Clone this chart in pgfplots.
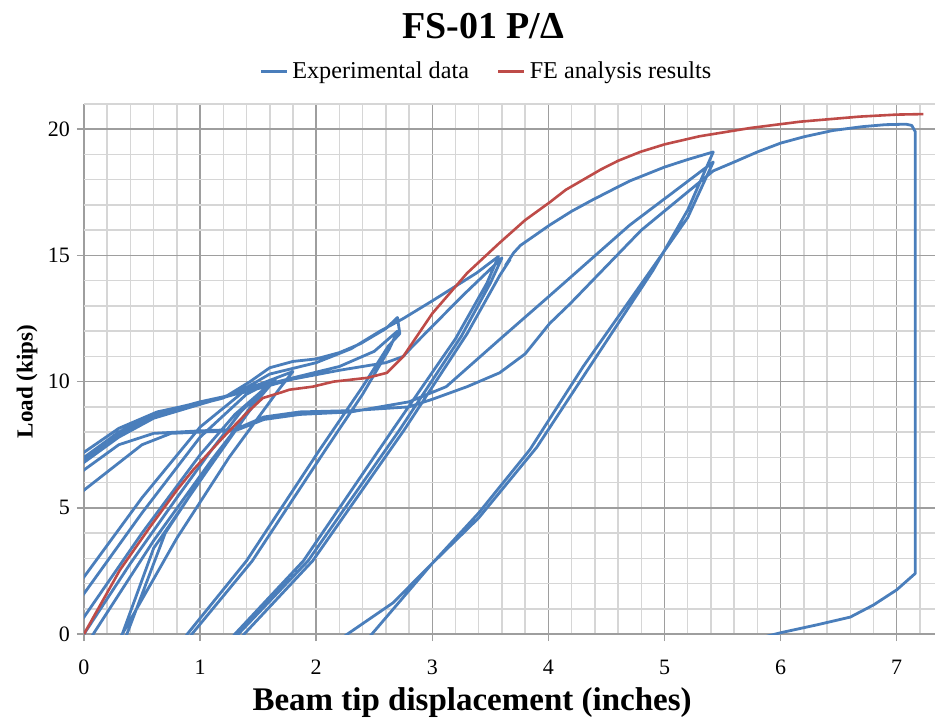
\documentclass[border=0pt]{standalone}
\usepackage{fontspec}
\setmainfont{Liberation Serif}
\usepackage{pgfplots}
\pgfplotsset{compat=1.18}
\definecolor{expblue}{RGB}{74,126,187}
\definecolor{fered}{RGB}{190,75,72}
\begin{document}
\begin{tikzpicture}
\path[use as bounding box] (-42pt,-42.5pt) rectangle (425.5pt,317pt);
\begin{axis}[
  at={(0,0)}, anchor=south west,
  scale only axis, width=425.5pt, height=265pt,
  xmin=0, xmax=7.33, ymin=0, ymax=21,
  xtick={0,1,...,7}, ytick={0,5,10,15,20},
  minor xtick={0.2,0.4,0.6,0.8,1.2,1.4,1.6,1.8,2.2,2.4,2.6,2.8,3.2,3.4,3.6,3.8,4.2,4.4,4.6,4.8,5.2,5.4,5.6,5.8,6.2,6.4,6.6,6.8,7.2},
  minor ytick={1,2,3,4,6,7,8,9,11,12,13,14,16,17,18,19,21},
  grid=both,
  major grid style={draw=black!38, line width=0.75pt},
  minor grid style={draw=black!16, line width=0.75pt},
  axis line style={draw=none},
  tick align=outside, xtick pos=left, ytick pos=left,
  major tick length=3.5pt, minor tick length=0pt,
  tick style={draw=black!38, line width=0.75pt},
  /pgf/number format/assume math mode=true,
  ticklabel style={font=\fontsize{11}{13}\selectfont},
  xticklabel style={yshift=-6pt},
  xlabel={Beam tip displacement (inches)},
  ylabel={Load (kips)},
  xlabel style={at={(axis description cs:0.456,-0.130)}, anchor=center, font=\bfseries\fontsize{16.5}{19}\selectfont},
  ylabel style={at={(axis description cs:-0.067,0.476)}, anchor=center, font=\bfseries\fontsize{11.5}{14}\selectfont},
  title={FS-01 P/Δ},
  title style={at={(axis description cs:0.469,1.124)}, anchor=center, font=\bfseries\fontsize{19}{22}\selectfont},
  legend style={at={(axis description cs:0.474,1.062)}, anchor=center, draw=none, fill=none,
    legend columns=2, font=\fontsize{12.1}{14}\selectfont,
    /tikz/every even column/.append style={column sep=12pt}},
  legend image code/.code={\draw[#1, line width=1.4pt] (0pt,0pt) -- (13pt,0pt);},
]
\addplot[expblue, line width=1.4pt, line join=round] coordinates {
(0,0) (0.4,2.8) (0.8,5.4) (1.1,7.3) (1.35,8.8) (1.55,9.7)
(1.45,9.1) (1.1,6.8) (0.7,4.0) (0.37,0) (0.1,-2) (-0.5,-4)
(-0.3,-1.3) (0,0.67) (0.5,4.0) (1.0,7.1) (1.3,8.7) (1.6,9.9)
(1.48,9.2) (1.05,6.4) (0.6,3.4) (0.33,0) (0.0,-2.2) (-0.5,-4)
(-0.3,-0.4) (0,1.6) (0.5,4.8) (1.0,7.8) (1.4,9.5) (1.65,10.1)
(1.52,9.4) (1.1,6.9) (0.6,3.7) (0.08,0) (-0.3,-2.8)
(-0.4,-0.3) (0,2.26) (0.5,5.4) (1.0,8.2) (1.4,9.7) (1.8,10.4)
(1.68,9.7) (1.25,7.0) (0.8,3.8) (0.33,0) (0,-2.2) (-0.6,-4)
(-1.0,0) (-0.4,5.2) (0,6.9) (0.3,7.9) (0.63,8.65) (0.9,9.0) (1.2,9.35) (1.43,10.0) (1.6,10.55) (1.8,10.8) (2.0,10.9) (2.2,11.15) (2.38,11.5) (2.6,12.1) (2.70,12.54) (2.72,11.9)
(2.62,11.4) (2.4,9.8) (2.03,7.3) (1.40,2.9) (0.89,0) (0.5,-2.5) (-0.5,-5)
(-1.0,1) (-0.4,5.6) (0,7.2) (0.3,8.15) (0.63,8.8) (0.83,9.0) (1.2,9.4) (1.5,9.8) (1.8,10.15) (2.2,10.6) (2.5,11.2) (2.7,12.0)
(2.63,11.3) (2.4,9.5) (2.08,7.3) (1.45,2.9) (0.93,0) (0.5,-2.8) (-0.5,-5)
(-1.0,0) (-0.4,5.0) (0,6.8) (0.3,7.8) (0.6,8.55) (1.0,9.1) (1.3,9.5) (1.6,10.3) (2.0,10.75) (2.3,11.3) (2.55,12.0) (2.75,12.5) (3.0,13.2) (3.38,14.3) (3.57,14.96)
(3.47,13.9) (3.2,11.7) (2.66,8.1) (1.89,2.9) (1.30,0) (0.9,-2.4) (-0.5,-6)
(-1.0,1) (-0.4,5.6) (0,7.0) (0.3,8.0) (0.6,8.7) (1.0,9.2) (1.4,9.6) (1.8,10.1) (2.2,10.45) (2.6,10.75) (2.75,11.0) (2.83,11.4) (3.26,13.4) (3.6,14.9)
(3.5,13.9) (3.25,11.8) (2.72,8.1) (1.93,2.9) (1.33,0) (1.1,-1.3) (1.15,-1.4)
(1.38,0) (1.97,2.9) (2.76,8.1) (3.3,11.9) (3.58,14.2) (3.67,14.84) (3.63,14.6) (3.7,15.1) (3.76,15.4) (3.87,15.75) (4.01,16.2) (4.2,16.75) (4.38,17.2) (4.55,17.6) (4.7,17.95) (5.0,18.5) (5.2,18.8) (5.42,19.1)
(5.2,16.8) (4.9,14.4) (4.4,10.9) (3.9,7.4) (3.4,4.6) (3.0,2.8) (2.66,1.23) (2.27,0) (1.9,-1.2) (0,-6) (-1,0)
(-0.3,4.2) (0,5.7) (0.25,6.6) (0.5,7.5) (0.75,7.95) (1.0,8.0) (1.3,8.05) (1.55,8.5) (1.86,8.7) (2.3,8.8) (2.8,9.2) (3.12,9.8) (3.58,11.67) (4.01,13.4) (4.7,16.2) (5.42,18.7)
(5.2,16.5) (4.85,14.2) (4.3,10.6) (3.84,7.3) (3.4,4.8) (3.0,2.8) (2.48,0) (2.2,-1.5) (0,-6) (-1,0)
(-0.3,5.0) (0,6.5) (0.3,7.5) (0.6,7.95) (1.0,8.05) (1.3,8.1) (1.55,8.6) (1.86,8.8) (2.3,8.85) (2.8,9.0) (3.0,9.3) (3.3,9.8) (3.58,10.35) (3.8,11.1) (4.01,12.3) (4.19,13.1) (4.8,16.0) (5.42,18.35)
(5.6,18.7) (5.8,19.1) (6.0,19.45) (6.2,19.7) (6.45,19.95) (6.7,20.1) (6.9,20.18) (7.08,20.2) (7.13,20.15) (7.16,19.9) (7.16,2.4) (7.0,1.75) (6.8,1.15) (6.6,0.67) (6.31,0.36) (6.0,0.05) (5.7,-0.3) (5.0,-2)
};
\addlegendentry{Experimental data}
\addplot[fered, line width=1.3pt, line join=round] coordinates {
(0,0) (0.31,2.54) (0.57,4.25) (0.8,5.7) (0.94,6.5) (1.2,7.8) (1.4,8.75) (1.54,9.35) (1.69,9.56) (1.77,9.68) (1.97,9.8) (2.15,10.0) (2.44,10.15) (2.61,10.35) (2.75,11.0) (3.0,12.7) (3.3,14.3) (3.58,15.5) (3.8,16.4) (4.01,17.1) (4.15,17.6) (4.3,18.0) (4.45,18.4) (4.6,18.75) (4.79,19.1) (5.0,19.4) (5.3,19.72) (5.74,20.05) (6.17,20.3) (6.68,20.5) (7.0,20.58) (7.23,20.6)
};
\addlegendentry{FE analysis results}
\end{axis}
\end{tikzpicture}
\end{document}
